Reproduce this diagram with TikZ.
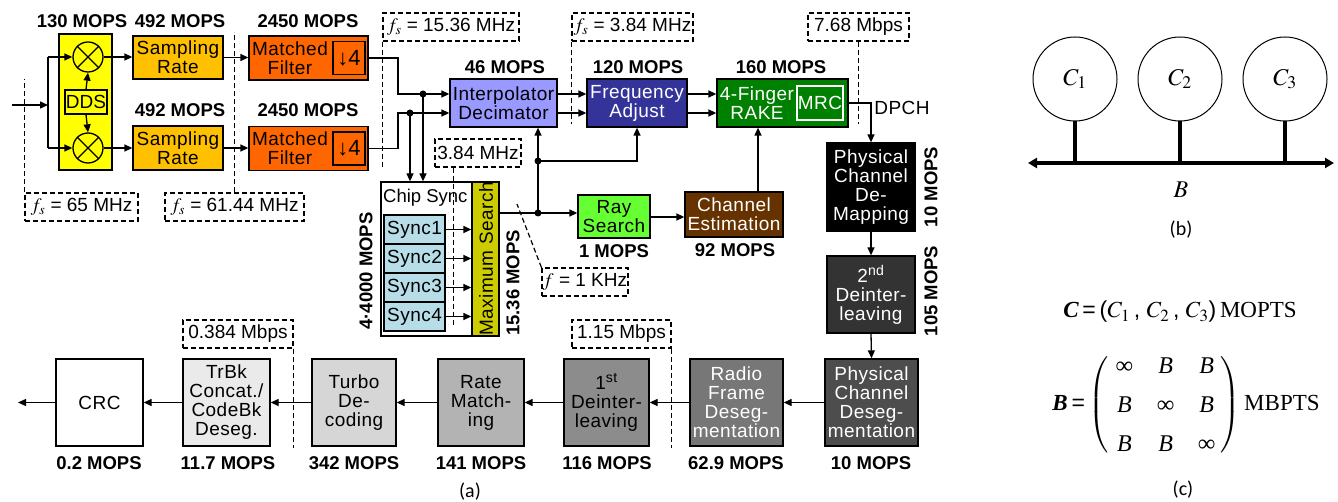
\documentclass[tikz,border=0pt]{standalone}
\usepackage{amsmath}
\usepackage{mathptmx}
\usepackage{fontspec}
\setmainfont{Liberation Sans}
\newfontfamily\capfont{Carlito}
\newfontfamily\tms{Liberation Serif}
\newfontfamily\boxfont[LetterSpace=2.5]{Liberation Sans}
\usetikzlibrary{arrows.meta,calc}
\definecolor{cYel}{HTML}{FFFF00}
\definecolor{cSR}{HTML}{FFC000}
\definecolor{cMF}{HTML}{FF6600}
\definecolor{cIP}{HTML}{9999FF}
\definecolor{cFA}{HTML}{333399}
\definecolor{cRK}{HTML}{008000}
\definecolor{cD2}{HTML}{333333}
\definecolor{cPD}{HTML}{4D4D4D}
\definecolor{cRF}{HTML}{777777}
\definecolor{cD1}{HTML}{8C8C8C}
\definecolor{cRM}{HTML}{B3B3B3}
\definecolor{cTD}{HTML}{D6D6D6}
\definecolor{cTB}{HTML}{EAEAEA}
\definecolor{cSY}{HTML}{B7DEE8}
\definecolor{cMS}{HTML}{CCCC00}
\definecolor{cRS}{HTML}{66FF33}
\definecolor{cCE}{HTML}{663300}
\begin{document}
\begin{tikzpicture}[x=1pt,y=-1pt,
  blk/.style={draw=black,line width=1.3pt,align=center,inner sep=0pt,font=\boxfont\fontsize{19}{19}\selectfont},
  txt/.style={inner sep=0pt,align=center,font=\boxfont\fontsize{19}{19}\selectfont},
  lbl/.style={inner sep=0pt,font=\bfseries\fontsize{18.5}{18.5}\selectfont},
  dbox/.style={draw,dash pattern=on 5pt off 3pt,line width=1.2pt,inner sep=0pt,font=\fontsize{19}{19}\selectfont},
  dl/.style={dash pattern=on 5pt off 3pt,line width=1.2pt},
  ar/.style={line width=1.3pt,-{Triangle[length=8pt,width=7pt]}},
  ln/.style={line width=1.3pt},
  dot/.style={circle,fill=black,inner sep=0pt,minimum size=7pt},
  mix/.style={draw,line width=1.3pt,circle,minimum size=30,inner sep=0pt,fill=cYel},
  bot/.style={blk,minimum width=87,minimum height=87}
]
\useasboundingbox (0,0) rectangle (1338,502);

% ---------- front end
\node[blk,fill=cYel,minimum width=53,minimum height=136] (ddsblk) at (85.5,102) {};
\node[mix] (mix1) at (88,57) {};
\node[mix] (mix2) at (88,148) {};
\draw[ln] (mix1.north west) -- (mix1.south east) (mix1.north east) -- (mix1.south west);
\draw[ln] (mix2.north west) -- (mix2.south east) (mix2.north east) -- (mix2.south west);
\node[blk,minimum width=42,minimum height=24,font=\fontsize{19}{19}\selectfont] (dds) at (86,102) {DDS};

\node[blk,fill=cSR,minimum width=90,minimum height=43] (sr1) at (178,57.5) {Sampling\\Rate};
\node[blk,fill=cSR,minimum width=90,minimum height=44] (sr2) at (178,148) {Sampling\\Rate};
\node[blk,fill=cMF,minimum width=119,minimum height=44] (mf1) at (308.5,58) {};
\node[blk,fill=cMF,minimum width=119,minimum height=44] (mf2) at (308.5,148.5) {};
\node[txt] (mf1t) at (290,58) {Matched\\Filter};
\node[txt] (mf2t) at (290,148.5) {Matched\\Filter};
\node[blk,minimum width=32,minimum height=33,font=\fontsize{22}{22}\selectfont] (d41) at (349,58) {↓4};
\node[blk,minimum width=32,minimum height=33,font=\fontsize{22}{22}\selectfont] (d42) at (349,148.5) {↓4};

\node[lbl] (l130) at (82,21) {130 MOPS};
\node[lbl] (l492a) at (180,21) {492 MOPS};
\node[lbl] (l492b) at (180,110) {492 MOPS};
\node[lbl] (l2450a) at (308,21) {2450 MOPS};
\node[lbl] (l2450b) at (308,110) {2450 MOPS};

% ---------- middle chain
\node[blk,fill=cIP,minimum width=107,minimum height=48] (ip) at (503.5,103) {Interpolator\\Decimator};
\node[blk,fill=cFA,text=white,minimum width=100,minimum height=48] (fa) at (637,103) {Frequency\\Adjust};
\node[blk,fill=cRK,minimum width=131,minimum height=48] (rake) at (782.5,103) {};
\node[txt,text=white] (raket) at (757,103) {4-Finger\\RAKE};
\node[draw=white,line width=1.3pt,minimum width=46,minimum height=34,inner sep=0pt,text=white,font=\boxfont\fontsize{19}{19}\selectfont] (mrc) at (820,103) {MRC};
\node[lbl] (l46) at (505,67) {46 MOPS};
\node[lbl] (l120) at (638,67) {120 MOPS};
\node[lbl] (l160) at (781,67) {160 MOPS};

\node[blk,fill=black,text=white,minimum width=88,minimum height=88] (pcdm) at (871,187) {Physical\\Channel\\De-\\Mapping};
\node[blk,fill=cD2,text=white,minimum width=88,minimum height=77] (deint2) at (871,294.5) {2\textsuperscript{nd}\\Deinter-\\leaving};
\node[lbl,rotate=90] (l10a) at (931,187) {10 MOPS};
\node[lbl,rotate=90] (l105) at (931,291) {105 MOPS};
\node[txt] (dpch) at (902,108) {DPCH};

% ---------- bottom row
\node[bot,fill=cPD,text=white,minimum width=93] (pcds) at (871.5,402.5) {Physical\\Channel\\Deseg-\\mentation};
\node[bot,fill=cRF,text=white,minimum width=93] (rfd) at (736.5,402.5) {Radio\\Frame\\Deseg-\\mentation};
\node[bot,fill=cD1,minimum width=85] (deint1) at (606.5,402.5) {1\textsuperscript{st}\\Deinter-\\leaving};
\node[bot,fill=cRM,minimum width=86] (rm) at (481,402.5) {Rate\\Match-\\ing};
\node[bot,fill=cTD,minimum width=84] (turbo) at (354,402.5) {Turbo\\De-\\coding};
\node[bot,fill=cTB] (trbk) at (226.5,402.5) {TrBk\\Concat./\\CodeBk\\Deseg.};
\node[bot,fill=white] (crc) at (99.5,402.5) {CRC};
\node[lbl] (l10b) at (871,463) {10 MOPS};
\node[lbl] (l629) at (736,463) {62.9 MOPS};
\node[lbl] (l116) at (607,463) {116 MOPS};
\node[lbl] (l141) at (481,463) {141 MOPS};
\node[lbl] (l342) at (354,463) {342 MOPS};
\node[lbl] (l117) at (228,463) {11.7 MOPS};
\node[lbl] (l02) at (99,463) {0.2 MOPS};

% ---------- chip sync
\node[blk,fill=white,minimum width=118,minimum height=154] (chip) at (440,259) {};
\node[blk,fill=cMS,minimum width=27,minimum height=154] (maxs) at (485.5,259) {};
\node[txt,rotate=90] (maxst) at (486,259) {Maximum Search};
\node[inner sep=0pt,anchor=west,font=\fontsize{18.5}{19}\selectfont] (chipt) at (383,198) {Chip Sync};
\node[blk,fill=cSY,minimum width=61,minimum height=29] (sync1) at (414.5,229.5) {Sync1};
\node[blk,fill=cSY,minimum width=61,minimum height=29] (sync2) at (414.5,258.5) {Sync2};
\node[blk,fill=cSY,minimum width=61,minimum height=29] (sync3) at (414.5,287.5) {Sync3};
\node[blk,fill=cSY,minimum width=61,minimum height=29] (sync4) at (414.5,316.5) {Sync4};
\node[lbl,rotate=90] (l4000) at (366,271) {4·4000 MOPS};
\node[lbl,rotate=90] (l1536) at (513,283) {15.36 MOPS};

\node[blk,fill=cRS,minimum width=72,minimum height=43] (ray) at (614,216.5) {Ray\\Search};
\node[blk,fill=cCE,text=white,minimum width=98,minimum height=45] (ce) at (734,214.5) {Channel\\Estimation};
\node[lbl] (l1) at (614,251) {1 MOPS};
\node[lbl] (l92) at (735,250) {92 MOPS};

% ---------- dashed annotations
\node[dbox,minimum width=113,minimum height=28] (fs65) at (81.5,207) {$f_s$ = 65 MHz};
\node[dbox,minimum width=139,minimum height=28] (fs6144) at (234.5,207) {$f_s$ = 61.44 MHz};
\node[dbox,minimum width=136,minimum height=28] (fs1536) at (451,27) {$f_s$ = 15.36 MHz};
\node[dbox,minimum width=121,minimum height=28] (fs384) at (632.5,27) {$f_s$ = 3.84 MHz};
\node[dbox,minimum width=101,minimum height=28] (mb768) at (858.5,27) {7.68 Mbps};
\node[dbox,minimum width=86,minimum height=28] (mhz384) at (478,153) {3.84 MHz};
\node[dbox,minimum width=86,minimum height=28] (khz1) at (585,282) {$f$ = 1 KHz};
\node[dbox,minimum width=99,minimum height=28] (mb115) at (621.5,334) {1.15 Mbps};
\node[dbox,minimum width=110,minimum height=28] (mb0384) at (238,334) {0.384 Mbps};

\draw[dl] (fs65.north west) -- ++(0,-113);
\draw[dl] (fs6144.north) -- ++(0,-160);
\draw[dl] (fs1536.south west) -- ++(0,127);
\draw[dl] (fs384.south west) -- ++(0,82);
\draw[dl] (mb768.south) -- ++(0,82);
\draw[dl] ($(mhz384.south west)+(19,0)$) -- ++(0,157);
\coordinate (kd) at (517,204);
\draw[dl] (khz1.north west) -- (kd);
\draw[dl] (mb115.south east) -- ++(0,99);
\draw[dl] (mb0384.south east) -- ++(0,99);

% ---------- connectors
\coordinate (inp) at (12,105);
\coordinate (split) at (48,105);
\draw[ar] (inp) -- (split);
\draw[ln] (split |- mix1.west) -- (split |- mix2.west);
\draw[ar] (split |- mix1.west) -- (mix1.west);
\draw[ar] (split |- mix2.west) -- (mix2.west);
\draw[ar] (dds.north) -- (mix1.south);
\draw[ar] (dds.south) -- (mix2.north);
\draw[ar] (mix1.east) -- (mix1.east -| sr1.west);
\draw[ar] (mix2.east) -- (mix2.east -| sr2.west);
\draw[ar] (sr1.east) -- (sr1.east -| mf1.west);
\draw[ar] (sr2.east) -- (sr2.east -| mf2.west);

\coordinate (bendx) at (398,0);
\coordinate (j1) at (423,94);
\coordinate (j2) at (410,113);
\draw[ar] (mf1.east) -| (bendx |- j1) -- (ip.west |- j1);
\draw[ar] (mf2.east) -| (bendx |- j2) -- (ip.west |- j2);
\draw[ar] (j1) -- (j1 |- chip.north);
\draw[ar] (j2) -- (j2 |- chip.north);
\node[dot] (dj1) at (j1) {};
\node[dot] (dj2) at (j2) {};
\draw[ar] (ip.east |- j1) -- (fa.west |- j1);
\draw[ar] (ip.east |- j2) -- (fa.west |- j2);
\draw[ar] (fa.east |- j1) -- (rake.west |- j1);
\draw[ar] (fa.east |- j2) -- (rake.west |- j2);
\draw[ar] (rake.east) -| (pcdm.north);
\draw[ar] (pcdm.south) -- (deint2.north);
\draw[ar] (deint2.south) -- (pcds.north);
\draw[ar] (pcds.west) -- (rfd.east);
\draw[ar] (rfd.west) -- (deint1.east);
\draw[ar] (deint1.west) -- (rm.east);
\draw[ar] (rm.west) -- (turbo.east);
\draw[ar] (turbo.west) -- (trbk.east);
\draw[ar] (trbk.west) -- (crc.east);
\coordinate (outp) at (18,402.5);
\draw[ar] (crc.west) -- (outp);

\foreach \i in {1,...,4} \draw[ar] (sync\i.east) -- (sync\i.east -| maxs.west);

\coordinate (jr) at (538,213);
\coordinate (jr2) at (538,161);
\draw[ar] (maxs.east |- jr) -- (ray.west |- jr);
\draw[ln] (jr) -- (jr2);
\draw[ar] (jr2) -- (jr2 |- ip.south);
\draw[ar] (jr2) -| (fa.south);
\node[dot] (djr) at (jr) {};
\node[dot] (djr2) at (jr2) {};
\coordinate (rc) at (650,217);
\draw[ar] (ray.east |- rc) -- (ce.west |- rc);
\coordinate (cex) at (758,0);
\draw[ar] (cex |- ce.north) -- (cex |- rake.south);

\node[inner sep=0pt,font=\capfont\fontsize{20}{20}\selectfont] (capa) at (470,492) {(a)};

% ---------- panel (b)
\node[draw,circle,line width=1pt,minimum size=84,inner sep=0pt,font=\fontsize{24}{24}\selectfont] (c1) at (1075,79) {$C_1$};
\node[draw,circle,line width=1pt,minimum size=84,inner sep=0pt,font=\fontsize{24}{24}\selectfont] (c2) at (1180,79) {$C_2$};
\node[draw,circle,line width=1pt,minimum size=84,inner sep=0pt,font=\fontsize{24}{24}\selectfont] (c3) at (1285,79) {$C_3$};
\coordinate (busl) at (1028,163);
\coordinate (busr) at (1334,163);
\draw[line width=3.5pt,{Triangle[length=9pt,width=10pt]}-{Triangle[length=9pt,width=10pt]}] (busl) -- (busr);
\draw[line width=3.5pt] (c1.south) -- (c1.south |- busl);
\draw[line width=3.5pt] (c2.south) -- (c2.south |- busl);
\draw[line width=3.5pt] (c3.south) -- (c3.south |- busl);
\node[inner sep=0pt,font=\fontsize{24}{24}\selectfont] (bl) at (1181,190) {$B$};
\node[inner sep=0pt,font=\capfont\fontsize{20}{20}\selectfont] (capb) at (1181,230) {(b)};

% ---------- panel (c)
\node[inner sep=0pt,font=\fontsize{23}{23}\selectfont] (eqc) at (1180,312) {{\tms\bfseries\itshape C}\,=\,($C_1$\,, $C_2$\,, $C_3$)\,{\tms MOPTS}};
\node[inner sep=0pt,font=\fontsize{23}{26}\selectfont] (eqb) at (1186,405) {{\tms\bfseries\itshape B}\,=\,$\delimitershortfall=24pt\delimiterfactor=800\left(\vcenter{\hbox{\tms\itshape\fontsize{24}{26}\selectfont\renewcommand{\arraystretch}{1.5}\setlength{\tabcolsep}{12pt}\begin{tabular}{@{\hspace{7pt}}ccc@{\hspace{5pt}}}∞ & B & B\\ B & ∞ & B\\ B & B & ∞\end{tabular}}}\right)$\,{\tms MBPTS}};
\node[inner sep=0pt,font=\capfont\fontsize{20}{20}\selectfont] (capc) at (1183,490) {(c)};
\end{tikzpicture}
\end{document}
